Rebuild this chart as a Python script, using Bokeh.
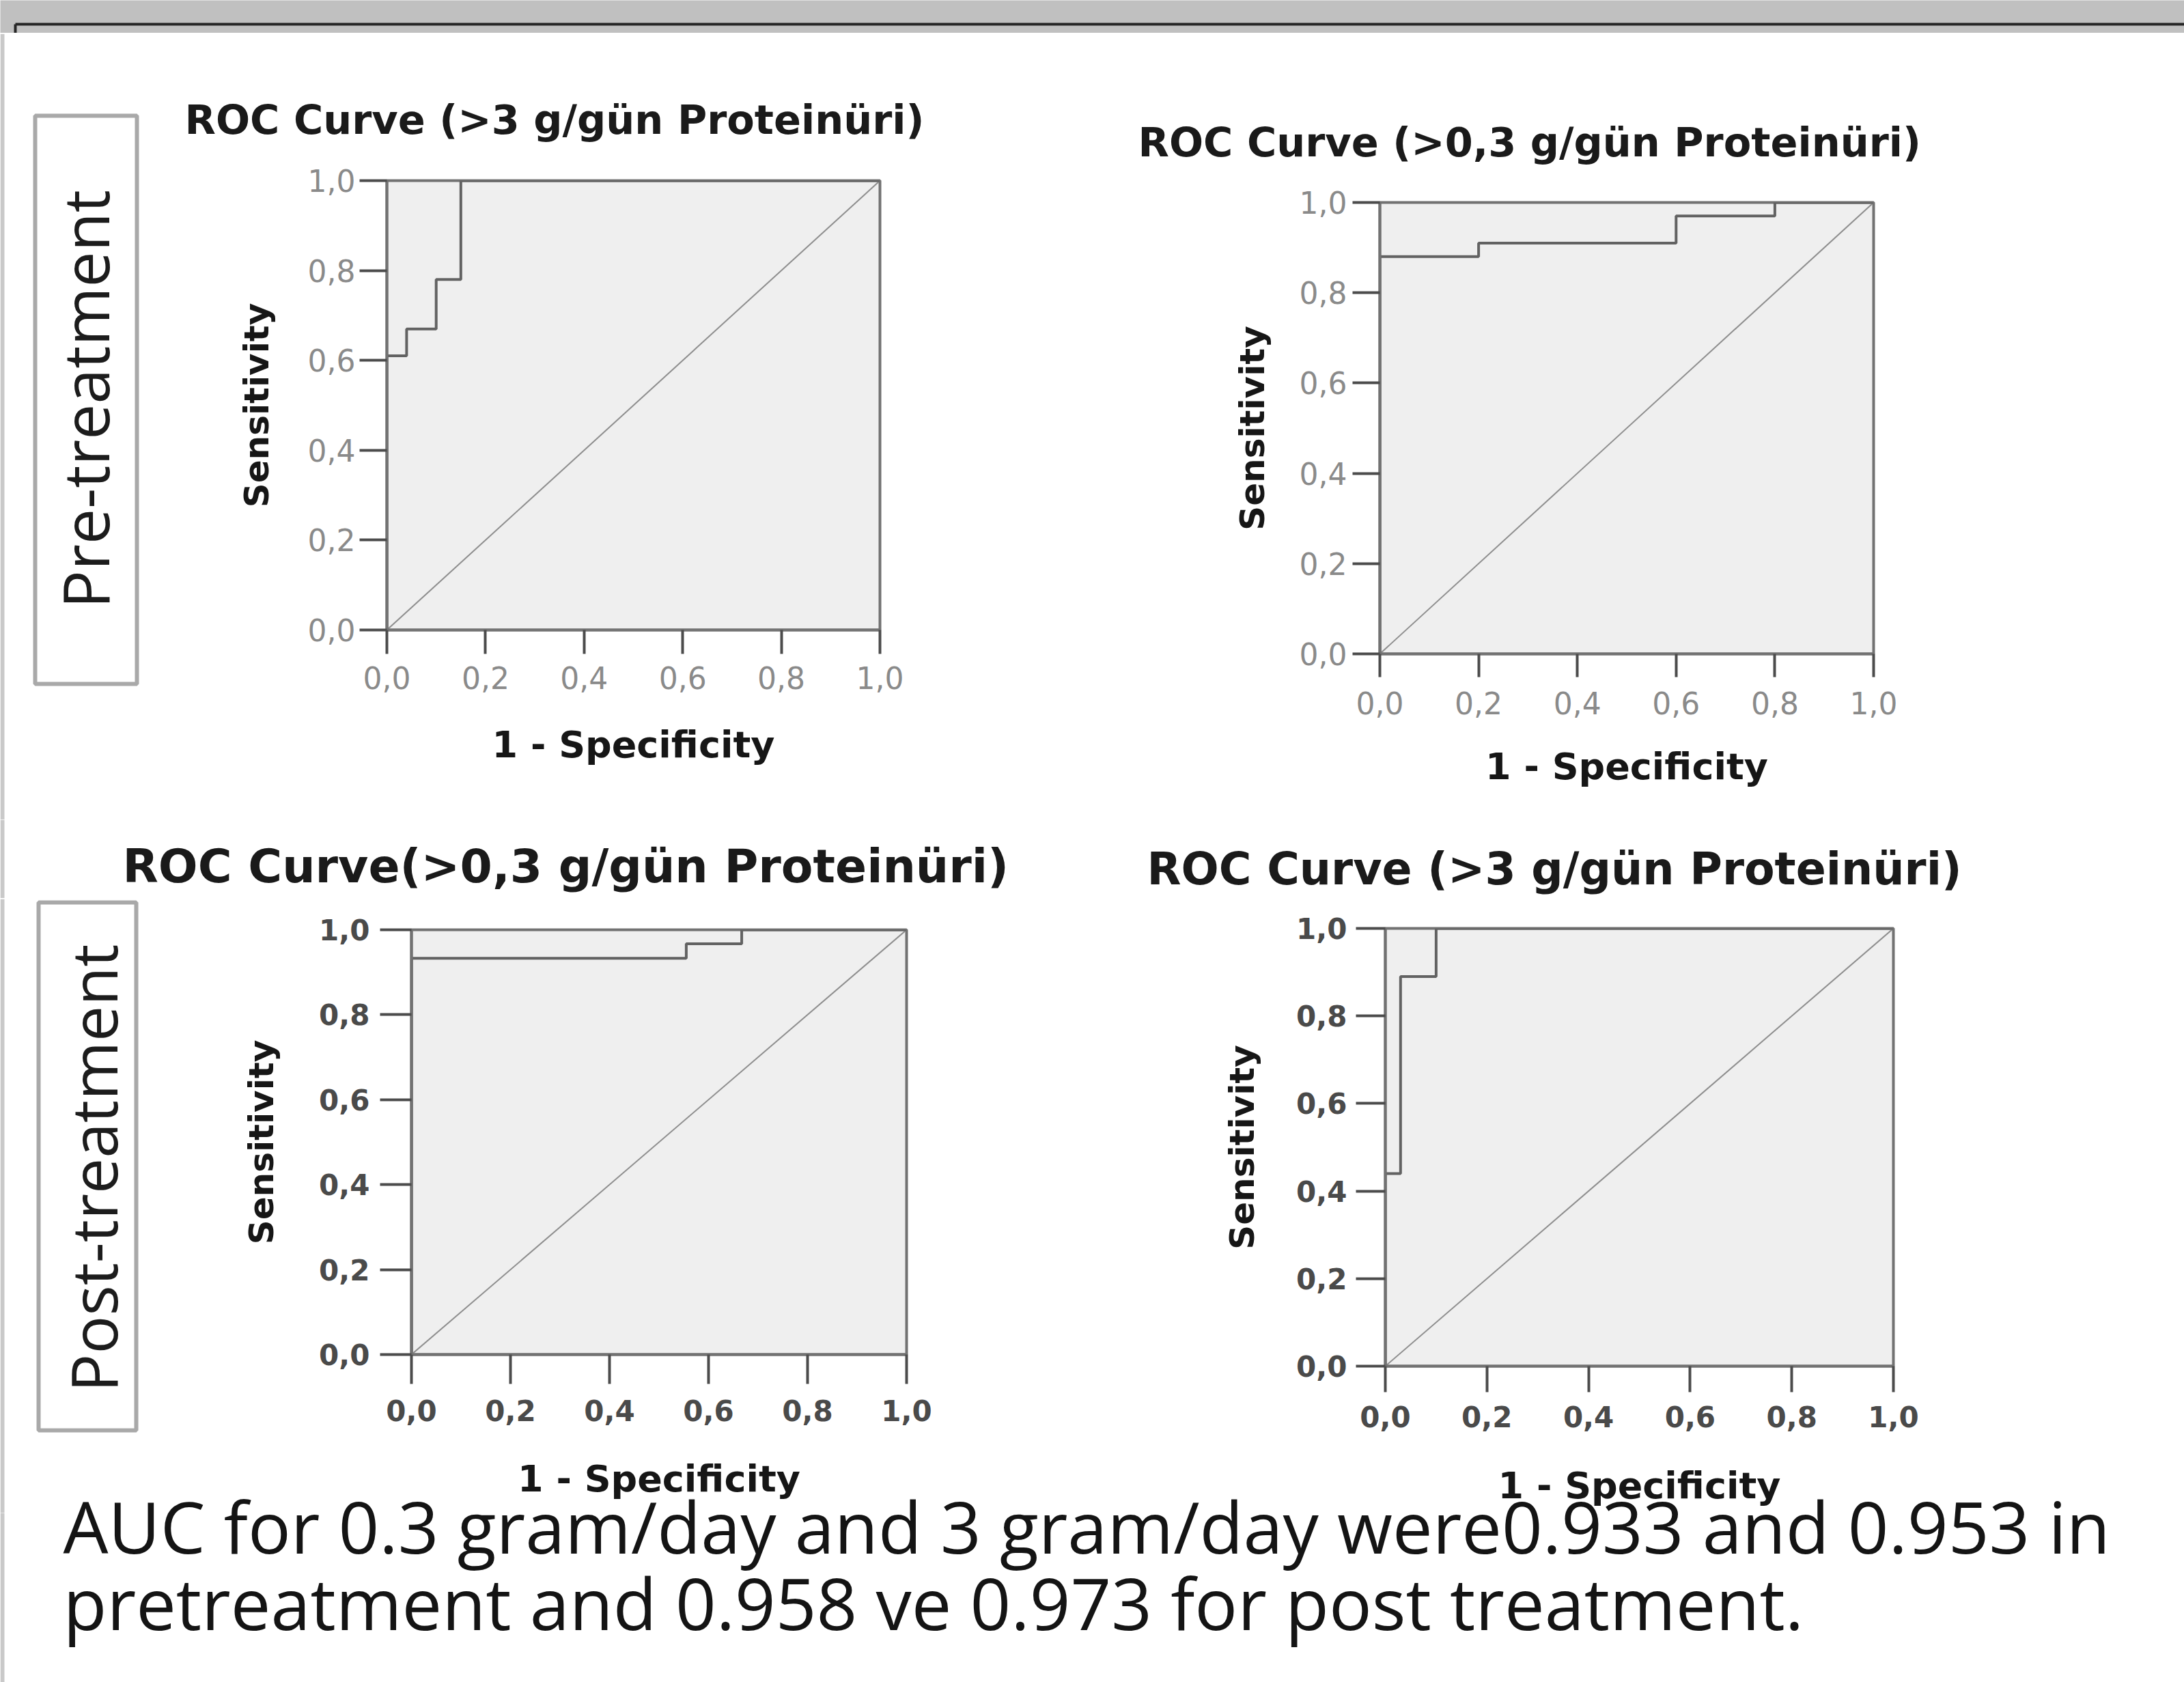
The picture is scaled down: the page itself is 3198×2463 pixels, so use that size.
import math
from bokeh.plotting import figure
from bokeh.layouts import row, column
from bokeh.models import Range1d, FixedTicker, Title, Spacer
from bokeh.core.properties import value
from bokeh.embed import file_html
from bokeh.resources import INLINE

# ---------------- data ----------------
tick_values = [0.0, 0.2, 0.4, 0.6, 0.8, 1.0]
tick_labels = ["0,0", "0,2", "0,4", "0,6", "0,8", "1,0"]
reference_line = [0.0, 1.0]

pre_3g_fpr = [0.0, 0.0, 0.04, 0.04, 0.10, 0.10, 0.15, 0.15, 1.0]
pre_3g_tpr = [0.0, 0.61, 0.61, 0.67, 0.67, 0.78, 0.78, 1.0, 1.0]

pre_03g_fpr = [0.0, 0.0, 0.20, 0.20, 0.60, 0.60, 0.80, 0.80, 1.0]
pre_03g_tpr = [0.0, 0.88, 0.88, 0.91, 0.91, 0.97, 0.97, 1.0, 1.0]

post_03g_fpr = [0.0, 0.0, 0.555, 0.555, 0.667, 0.667, 1.0]
post_03g_tpr = [0.0, 0.933, 0.933, 0.967, 0.967, 1.0, 1.0]

post_3g_fpr = [0.0, 0.0, 0.03, 0.03, 0.10, 0.10, 1.0]
post_3g_tpr = [0.0, 0.44, 0.44, 0.89, 0.89, 1.0, 1.0]

panel_titles = [
    "ROC Curve (>3 g/gün Proteinüri)",
    "ROC Curve (>0,3 g/gün Proteinüri)",
    "ROC Curve(>0,3 g/gün Proteinüri)",
    "ROC Curve (>3 g/gün Proteinüri)",
]
x_label = "1 - Specificity"
y_label = "Sensitivity"
row_labels = ["Pre-treatment", "Post-treatment"]
auc_lines = [
    "AUC for 0.3 gram/day and 3 gram/day were0.933 and 0.953 in",
    "pretreatment and 0.958 ve 0.973 for post treatment.",
]

# ---------------- styling / geometry ----------------
W_TOTAL = 3198
SPSS_FONT = "DejaVu Sans"
SLIDE_FONT = "Open Sans"
STRIP_GREY = "#c9c9c9"


def blank_fig(w, h, y_top, transparent=False):
    p = figure(width=w, height=h, x_range=Range1d(0, w),
               y_range=Range1d(y_top + h, y_top),
               x_axis_type=None, y_axis_type=None,
               output_backend="svg", toolbar_location=None, min_border=0)
    p.outline_line_color = None
    p.background_fill_color = None if transparent else "white"
    p.border_fill_color = None if transparent else "white"
    return p


def roc_panel(title, fpr, tpr, g):
    if title is not None:
        t = Title(text=title, text_font=SPSS_FONT, text_font_style="bold",
                  text_font_size=f"{g['ts']}px", text_color="#1a1a1a",
                  align="left", offset=g["toff"], standoff=g["tso"])
    else:
        t = None
    p = figure(width=g["w"], height=g["h"], title=t,
               x_range=Range1d(0, 1), y_range=Range1d(0, 1),
               output_backend="svg", toolbar_location=None,
               min_border_left=g["ml"], min_border_right=g["mr"],
               min_border_top=g["mt"], min_border_bottom=g["mb"])
    p.background_fill_color = "#efefef"
    p.border_fill_color = "white"
    p.outline_line_color = "#727272"
    p.outline_line_width = 4
    p.grid.visible = False

    p.line(reference_line, reference_line, line_color="#8e8e8e", line_width=2)
    p.line(fpr, tpr, line_color="#626262", line_width=4)

    overrides = dict(zip(tick_values, tick_labels))
    for ax, lab, tout, lstand, astand, asize in (
        (p.xaxis[0], x_label, g["xt"], g["xls"], g["xas"], 54),
        (p.yaxis[0], y_label, g["yt"], g["yls"], g["yas"], 50),
    ):
        ax.ticker = FixedTicker(ticks=tick_values)
        ax.major_label_overrides = overrides
        ax.axis_line_color = "#727272"
        ax.axis_line_width = 4
        ax.major_tick_line_color = "#4c4c4c"
        ax.major_tick_line_width = 4
        ax.major_tick_in = 0
        ax.major_tick_out = tout
        ax.minor_tick_line_color = None
        ax.major_label_text_font = SPSS_FONT
        ax.major_label_text_font_size = f"{g['tfs']}px"
        ax.major_label_text_font_style = g["tstyle"]
        ax.major_label_text_color = g["tcol"]
        ax.major_label_standoff = lstand
        ax.axis_label = lab
        ax.axis_label_text_font = SPSS_FONT
        ax.axis_label_text_font_style = "bold"
        ax.axis_label_text_font_size = f"{asize}px"
        ax.axis_label_text_color = "#161616"
        ax.axis_label_standoff = astand
    return p


def side_label(text, h, y_top, box, anchor_x, center_y):
    p = blank_fig(230, h, y_top)
    p.quad(left=[0], right=[6], top=[y_top], bottom=[y_top + h],
           fill_color=STRIP_GREY, line_color=None)
    p.quad(left=[box[0]], right=[box[1]], top=[box[2]], bottom=[box[3]],
           fill_color="white", line_color="#a9a9a9", line_width=6)
    p.text(x=[anchor_x], y=[center_y], text=[text], angle=math.pi / 2,
           text_align="center", text_baseline="middle",
           text_font=value(SLIDE_FONT), text_font_size="93px",
           text_color="#1c1c1c")
    return p


def unaligned(fig, w):
    # a 1px spacer on top keeps bokeh from aligning the frames within a row
    return column(Spacer(width=w, height=1), fig)


# ---------------- header (grey slide bar) ----------------
header = figure(width=W_TOTAL, height=48, x_range=Range1d(0, W_TOTAL),
                y_range=Range1d(48, 0), x_axis_type=None, y_axis_type=None,
                output_backend="svg", toolbar_location=None, min_border=0)
header.outline_line_color = None
header.background_fill_color = "#c0c0c0"
header.border_fill_color = "#c0c0c0"
header.segment(x0=[22, 22], y0=[35, 35], x1=[W_TOTAL, 22], y1=[35, 48],
               line_color="#262626", line_width=4)

# ---------------- panels ----------------
top_style = dict(tfs=44, tstyle="normal", tcol="#8a8a8a")
bot_style = dict(tfs=42, tstyle="bold", tcol="#4a4a4a")

ROW2_TOP = 1315
ROW2_H = 900            # ends at y = 2215
g1 = dict(w=1370, h=1151, ml=336, mr=312, mt=215, mb=278, ts=59, toff=-296, tso=109,
          xt=35, xls=18, xas=47, yt=40, yls=6, yas=43, **top_style)
g2 = dict(w=1598, h=1151, ml=420, mr=455, mt=247, mb=243, ts=59, toff=-354, tso=107,
          xt=34, xls=21, xas=42, yt=40, yls=8, yas=37, **top_style)
g3 = dict(w=1370, h=ROW2_H - 1, ml=372, mr=273, mt=45, mb=232,
          xt=43, xls=23, xas=50, yt=46, yls=15, yas=52, **bot_style)
g4 = dict(w=1598, h=ROW2_H - 1, ml=428, mr=426, mt=43, mb=215,
          xt=38, xls=20, xas=51, yt=43, yls=13, yas=47, **bot_style)

p1 = roc_panel(panel_titles[0], pre_3g_fpr, pre_3g_tpr, g1)
p2 = roc_panel(panel_titles[1], pre_03g_fpr, pre_03g_tpr, g2)
p3 = roc_panel(None, post_03g_fpr, post_03g_tpr, g3)
p4 = roc_panel(None, post_3g_fpr, post_3g_tpr, g4)

left1 = side_label(row_labels[0], 1151, 49, (51, 200, 169, 1001), 123, 584)
left2 = side_label(row_labels[1], ROW2_H - 1, ROW2_TOP + 1, (56, 199, 1321, 2094), 135, 1710)

# strip carrying the titles of the post-treatment panels
strip = blank_fig(W_TOTAL, 115, 1200)
strip.quad(left=[0], right=[6], top=[1200], bottom=[1315],
           fill_color=STRIP_GREY, line_color=None)
strip.text(x=[179], y=[1268], text=[panel_titles[2]],
           text_align="left", text_baseline="middle",
           text_font=value(SPSS_FONT), text_font_style="bold",
           text_font_size="68px", text_color="#1a1a1a")
strip.text(x=[1679], y=[1272], text=[panel_titles[3]],
           text_align="left", text_baseline="middle",
           text_font=value(SPSS_FONT), text_font_style="bold",
           text_font_size="65px", text_color="#1a1a1a")

row1 = row(unaligned(left1, 230), unaligned(p1, 1370), unaligned(p2, 1598))
row2 = row(unaligned(left2, 230), unaligned(p3, 1370), unaligned(p4, 1598))

# ---------------- footer text (transparent, overlapping row 2 a little) ----------------
OVERLAP = 60
FOOT_TOP = ROW2_TOP + ROW2_H - OVERLAP          # 2155
FOOT_H = 2463 - FOOT_TOP
footer = blank_fig(W_TOTAL, FOOT_H, FOOT_TOP, transparent=True)
footer.margin = (-OVERLAP, 0, 0, 0)
footer.quad(left=[0], right=[6], top=[ROW2_TOP + ROW2_H], bottom=[2463],
            fill_color=STRIP_GREY, line_color=None)
footer.text(x=[92, 92], y=[2233.5, 2345.5], text=auc_lines,
            text_align="left", text_baseline="middle",
            text_font=value(SLIDE_FONT), text_font_size="104.5px",
            text_color="#141414")

layout = column(header, row1, strip, row2, footer)

open("out.html", "w").write(file_html(layout, INLINE))
